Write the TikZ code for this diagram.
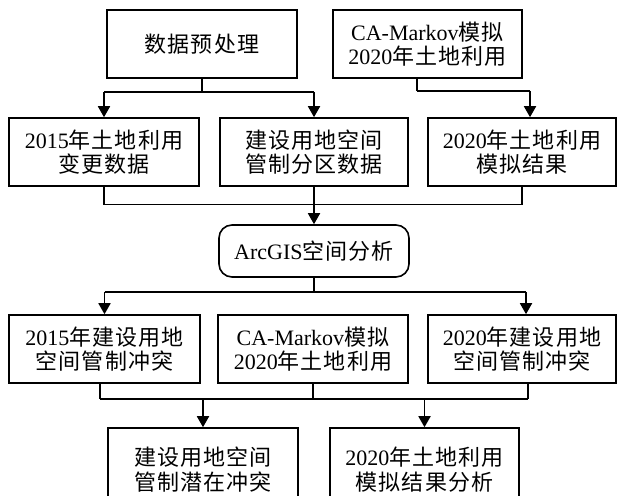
\documentclass[tikz,border=0pt]{standalone}
\usepackage{fontspec}
\setmainfont{Liberation Serif}
\newfontfamily\cjk[LetterSpace=5]{Noto Sans CJK SC}
\usetikzlibrary{arrows.meta,calc}
\newcommand\zh[1]{{\cjk #1}}
\begin{document}
\begin{tikzpicture}[x=1pt,y=-1pt,
  box/.style={draw,line width=1.6pt,minimum width=#1,minimum height=68pt,inner sep=0pt,align=center,
              font=\fontsize{22}{24}\selectfont},
  rbox/.style={draw,line width=1.6pt,rounded corners=13pt,minimum width=#1,minimum height=52pt,inner sep=0pt,align=center,
              font=\fontsize{22}{24}\selectfont},
  ln/.style={line width=1.3pt},
  arw/.style={line width=1.8pt,-{Triangle[width=12pt,length=11pt]}},
  hl/.style={line width=1.8pt}]
\fill[white] (0,0) rectangle (617,495);
\useasboundingbox (0,0) rectangle (617,495);
% row 1
\node[box=190pt] (pre) at (202,44) {\zh{数据预处理}};
\node[box=189pt] (ca1) at (427.5,44) {CA-Markov\zh{模拟}\\2020\zh{年土地利用}};
% row 2
\node[box=190pt] (r2a) at (104,152) {2015\zh{年土地利用}\\\zh{变更数据}};
\node[box=188pt] (r2b) at (314,152) {\zh{建设用地空间}\\\zh{管制分区数据}};
\node[box=188pt] (r2c) at (522,152) {2020\zh{年土地利用}\\\zh{模拟结果}};
% ArcGIS
\node[rbox=190pt] (arc) at (314,251) {ArcGIS\zh{空间分析}};
% row 3
\node[box=191pt] (r3a) at (104.5,349) {2015\zh{年建设用地}\\\zh{空间管制冲突}};
\node[box=190pt] (r3b) at (313,349) {CA-Markov\zh{模拟}\\2020\zh{年土地利用}};
\node[box=188pt] (r3c) at (522,349) {2020\zh{年建设用地}\\\zh{空间管制冲突}};
% row 4 (cut off by the lower edge)
\node[box=190pt,minimum height=74pt,text depth=0pt] (r4a) at (203,465) {\raisebox{6pt}{\begin{tabular}{@{}c@{}}\zh{建设用地空间}\\[-1pt]\zh{管制潜在冲突}\end{tabular}}};
\node[box=189pt,minimum height=74pt,text depth=0pt] (r4b) at (424.5,465) {\raisebox{6pt}{\begin{tabular}{@{}c@{}}2020\zh{年土地利用}\\[-1pt]\zh{模拟结果分析}\end{tabular}}};
% connectors row1 -> row2
\draw[ln] (pre.south) -- ++(0,13) coordinate (j1);
\draw[hl] (j1 -| r2a.north) -- (j1 -| r2b.north);
\draw[arw] (j1 -| r2a.north) -- (r2a.north);
\draw[arw] (j1 -| r2b.north) -- (r2b.north);
\draw[ln] ([xshift=-10.5pt]ca1.south) -- ++(0,12) coordinate (j2);
\coordinate (t2) at ([xshift=8pt]r2c.north);
\draw[hl] (j2) -- (j2 -| t2);
\draw[arw] (j2 -| t2) -- (t2);
% row2 -> ArcGIS
\draw[ln] (r2a.south) -- ++(0,18) coordinate (j3);
\draw[ln] (r2c.south) -- (r2c.south |- j3);
\draw[ln] (j3) -- (j3 -| r2c.south);
\draw[arw] (r2b.south) -- (arc.north);
% ArcGIS -> row3
\draw[ln] (arc.south) -- ++(0,14) coordinate (j4);
\coordinate (t4) at ([xshift=4pt]r3c.north);
\draw[hl] (j4 -| r3a.north) -- (j4 -| t4);
\draw[arw] (j4 -| r3a.north) -- (r3a.north);
\draw[arw] (j4 -| t4) -- (t4);
% row3 -> row4
\coordinate (s3a) at ([xshift=-4.5pt]r3a.south);
\coordinate (s3c) at ([xshift=6pt]r3c.south);
\draw[ln] (s3a) -- ++(0,15) coordinate (j5);
\draw[ln] (r3b.south) -- (r3b.south |- j5);
\draw[ln] (s3c) -- (s3c |- j5);
\draw[hl] (j5) -- (j5 -| s3c);
\draw[arw] (j5 -| r4a.north) -- (r4a.north);
\draw[arw] (j5 -| r4b.north) -- (r4b.north);
\end{tikzpicture}
\end{document}
